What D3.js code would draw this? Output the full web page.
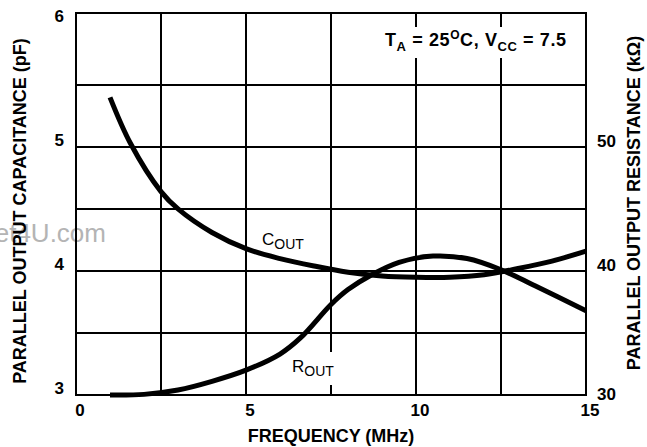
<!DOCTYPE html>
<html>
<head>
<meta charset="utf-8">
<script src="https://cdn.jsdelivr.net/npm/d3@7"></script>
<style>
  html, body { margin: 0; padding: 0; background: #fff; }
  svg { display: block; font-family: "Liberation Sans", Arial, Helvetica, sans-serif; }
</style>
</head>
<body>
<svg id="chart" width="647" height="447"></svg>
<script>
// ---- Data ----
const xTicks = [0, 5, 10, 15];
const xGrid = [2.5, 5, 7.5, 10, 12.5];
const yLeftTicks = [3, 4, 5, 6];
const yRightTicks = [30, 40, 50];
const yGrid = [3.5, 4, 4.5, 5, 5.5];

const freqC = [1, 1.6, 2.5, 3, 4, 5, 6, 7, 8, 9, 10, 11, 12, 13, 14, 15];
const cout  = [5.40, 5.03, 4.64, 4.50, 4.31, 4.18, 4.10, 4.04, 3.99, 3.96, 3.95, 3.95, 3.97, 4.02, 4.08, 4.16];

const freqR = [1, 2, 3, 4, 5, 6, 6.6, 7.5, 8, 8.7, 9.5, 10.5, 11.5, 12.5, 13.5, 15];
const rout  = [30, 30.05, 30.4, 31.1, 32.0, 33.3, 34.6, 37.3, 38.5, 39.7, 40.7, 41.2, 41.0, 40.1, 38.8, 36.8];

// ---- Layout ----
const svg = d3.select("#chart");
const L = 76, R = 586, T = 13, B = 395;

const x = d3.scaleLinear().domain([0, 15]).range([L, R]);
const yL = d3.scaleLinear().domain([3, 6.08]).range([B, T]);
const yR = d3.scaleLinear().domain([30, 60.8]).range([B, T]);

// watermark
svg.append("text").attr("x", 106).attr("y", 242).attr("text-anchor", "end")
  .attr("font-size", 26).attr("fill", "#b4b4b4").text("DataSheet4U.com");

// grid
const g = svg.append("g").attr("stroke", "#000").attr("stroke-width", 2);
xGrid.forEach(v => g.append("line").attr("x1", x(v)).attr("x2", x(v)).attr("y1", T).attr("y2", B));
yGrid.forEach(v => g.append("line").attr("x1", L).attr("x2", R).attr("y1", yL(v)).attr("y2", yL(v)));

// label masks
svg.append("rect").attr("x", 365).attr("y", 27).attr("width", 207).attr("height", 31).attr("fill", "#fff");
svg.append("rect").attr("x", 288).attr("y", 352).attr("width", 57).attr("height", 33).attr("fill", "#fff");

// frame
svg.append("rect").attr("x", L).attr("y", T).attr("width", R - L).attr("height", B - T)
  .attr("fill", "none").attr("stroke", "#000").attr("stroke-width", 2);

// curves
const curve = d3.curveCatmullRom.alpha(0.5);
const lineC = d3.line().x((d, i) => x(freqC[i])).y(d => yL(d)).curve(curve);
const lineR = d3.line().x((d, i) => x(freqR[i])).y(d => yR(d)).curve(curve);
svg.append("path").attr("d", lineC(cout)).attr("fill", "none").attr("stroke", "#000").attr("stroke-width", 5);
svg.append("path").attr("d", lineR(rout)).attr("fill", "none").attr("stroke", "#000").attr("stroke-width", 5);

// tick labels
const tl = svg.append("g").attr("font-weight", "bold").attr("font-size", 17).attr("fill", "#000");
xTicks.forEach(v => tl.append("text").attr("x", x(v) + 4).attr("y", 416).attr("text-anchor", "middle").text(v));
yLeftTicks.forEach(v => tl.append("text").attr("x", 64).attr("y", yL(v) - 1).attr("text-anchor", "end").text(v));
yRightTicks.forEach(v => tl.append("text").attr("x", 597).attr("y", yR(v) + (v === 30 ? 5 : 0)).attr("text-anchor", "start").text(v));

// axis titles
svg.append("text").attr("x", 331).attr("y", 442).attr("text-anchor", "middle")
  .attr("font-weight", "bold").attr("font-size", 18).text("FREQUENCY (MHz)");
svg.append("text").attr("transform", "translate(26,211) rotate(-90)").attr("text-anchor", "middle")
  .attr("font-weight", "bold").attr("font-size", 18).text("PARALLEL OUTPUT CAPACITANCE (pF)");
svg.append("text").attr("transform", "translate(640,203) rotate(-90)").attr("text-anchor", "middle")
  .attr("font-weight", "bold").attr("font-size", 18).text("PARALLEL OUTPUT RESISTANCE (kΩ)");

// annotation
const ann = svg.append("text").attr("x", 385).attr("y", 46).attr("font-weight", "bold").attr("font-size", 18)
  .attr("letter-spacing", 0.6);
ann.append("tspan").text("T");
ann.append("tspan").attr("font-size", 13).attr("dy", 5).text("A");
ann.append("tspan").attr("dy", -5).text(" = 25");
ann.append("tspan").attr("font-size", 12).attr("dy", -7).text("O");
ann.append("tspan").attr("dy", 7).text("C, V");
ann.append("tspan").attr("font-size", 13).attr("dy", 5).text("CC");
ann.append("tspan").attr("dy", -5).text(" = 7.5");

// curve labels
const cl = svg.append("text").attr("x", 262).attr("y", 245).attr("font-size", 17);
cl.append("tspan").text("C");
cl.append("tspan").attr("font-size", 14).attr("dy", 4).text("OUT");
const rl = svg.append("text").attr("x", 292).attr("y", 372).attr("font-size", 17);
rl.append("tspan").text("R");
rl.append("tspan").attr("font-size", 14).attr("dy", 4).text("OUT");
</script>
</body>
</html>
